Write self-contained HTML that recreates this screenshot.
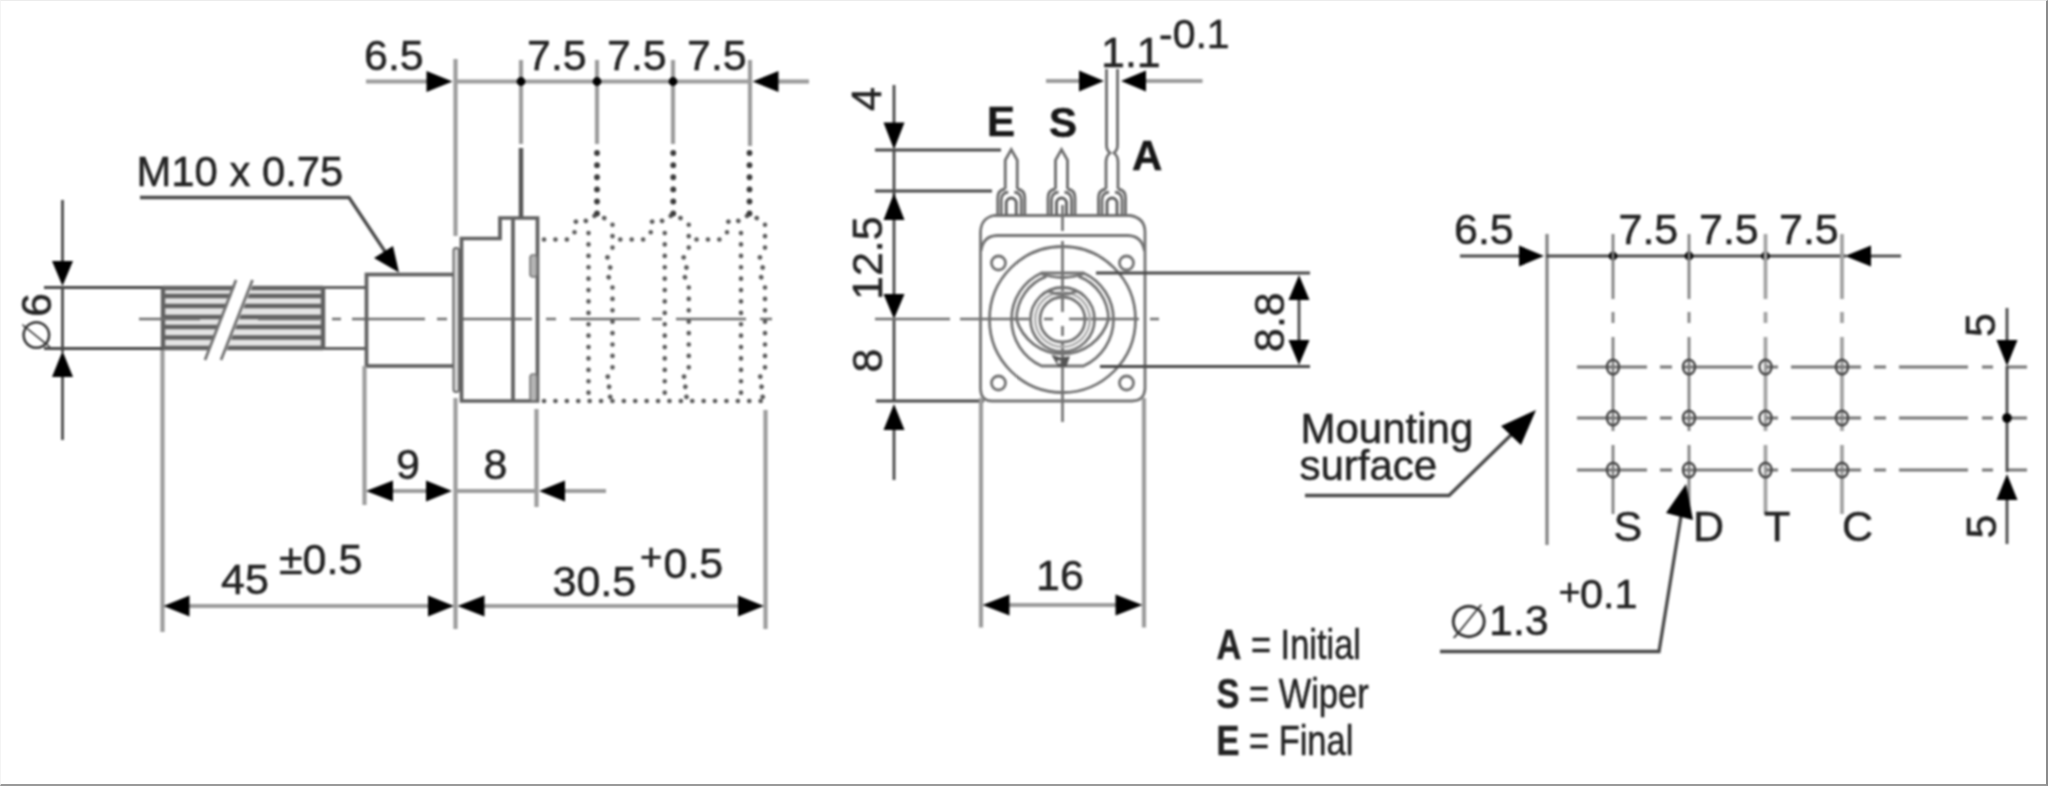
<!DOCTYPE html>
<html lang="en"><head><meta charset="utf-8"><title>Potentiometer dimensions</title>
<style>
html,body{margin:0;padding:0;background:#fff}
#wrap{position:relative;width:2048px;height:786px;overflow:hidden;background:#fff}
#frame{position:absolute;left:0;top:0;width:2045px;height:783px;border-top:1px solid #ececec;border-left:1px solid #f4f4f4;border-right:2px solid #8c8c8c;border-bottom:2px solid #9a9a9a;pointer-events:none}
svg{position:absolute;left:0;top:0;filter:blur(1.25px)}
.tx{font-family:"Liberation Sans",sans-serif;font-size:43px;fill:#222;stroke:#222;stroke-width:0.5px}
.tm{font-family:"Liberation Sans",sans-serif;font-size:42px;fill:#222;stroke:#222;stroke-width:0.5px}
.ph{font-family:"DejaVu Sans",sans-serif;font-size:44px;fill:#333}
.tb{font-family:"Liberation Sans",sans-serif;font-size:42px;font-weight:bold;fill:#161616;stroke:#161616;stroke-width:0.5px}
line,path,circle,rect,ellipse{fill:none}
.t{stroke:#9c9c9c;stroke-width:4.2}
.t2{stroke:#808080;stroke-width:3.2}
.d{stroke:#484848;stroke-width:2.8}
.o{stroke:#606060;stroke-width:3.7;stroke-linejoin:miter}
.o2{stroke:#727272;stroke-width:2.8}
.l2{stroke:#aaa;stroke-width:2.4}
.k{stroke:#626262;stroke-width:4.4}
.c{stroke:#6e6e6e;stroke-width:2.6}
.c2{stroke:#767676;stroke-width:3}
.c2a{stroke:#808080;stroke-width:2.8}
.c2b{stroke:#a2a2a2;stroke-width:3.8}
.h{stroke:#444;stroke-width:2.4;fill:none}
.p{stroke:#6c6c6c;stroke-width:2.8}
.p2{stroke:#5c5c5c;stroke-width:2.8}
.term{stroke:#555;stroke-width:4.5}
.dot{stroke:#585858;stroke-width:4.6;stroke-linecap:round;stroke-dasharray:0.1 11.3}
.dotb{stroke:#3a3a3a;stroke-width:5.8;stroke-linecap:round;stroke-dasharray:0.1 12}
.ar{fill:#000;stroke:none}
</style></head><body>
<div id="wrap">
<svg width="2048" height="786" viewBox="0 0 2048 786">
<line class="d" x1="62.5" y1="200" x2="62.5" y2="262"/>
<line class="d" x1="62.5" y1="286" x2="62.5" y2="352"/>
<line class="d" x1="62.5" y1="376" x2="62.5" y2="440"/>
<polygon class="ar" points="62.5,286 52.0,261 73.0,261"/>
<polygon class="ar" points="62.5,351 52.0,377 73.0,377"/>
<text transform="translate(50,352) rotate(-90)"><tspan class="ph" style="font-size:39px;font-style:oblique">∅</tspan><tspan class="tx" x="35" y="1">6</tspan></text>
<path class="d" d="M44,287.5H163M44,348.5H163"/>
<path class="o" d="M323,287.5H366M323,348.5H366" style="stroke-width:3.2"/>
<rect x="163" y="288" width="160" height="60" style="fill:#e4e4e4"/>
<path class="k" d="M163,288H323M163,296H323M163,306H323M163,317H323M163,327H323M163,337.5H323M163,348H323M163,288V348M323,288V348"/>
<polygon fill="#fff" points="238,279 255,279 222,362 205,362"/>
<path class="o2" d="M236,280L205,360M252.5,280L221,360"/>
<line class="t" x1="162.5" y1="350" x2="162.5" y2="632"/>
<path class="c" d="M139,319H200M258,319H320M332,319H341M352,319H425M437,319H447M461,319H532M546,319H556M570,319H640M652,319H662M676,319H746M760,319H772"/>
<rect class="o" x="366.5" y="274.5" width="88" height="91.5"/>
<path class="d" style="stroke-width:3.3" d="M140,197.5H349L392,262"/>
<polygon class="ar" points="399,272.5 374,258 393,246"/>
<text class="tx" x="136.5" y="186" style="font-size:41.8px">M10 x 0.75</text>
<rect x="453.5" y="248" width="5.5" height="144" rx="2.5" style="fill:#d8d8d8;stroke:#6a6a6a;stroke-width:2"/>
<path class="o" d="M461.5,401V238.5H500V218H537.5V401Z M513,218V401"/>
<rect x="530" y="255" width="7" height="22" rx="3" style="fill:#b4b4b4;stroke:#777;stroke-width:1.6"/>
<rect x="530" y="374" width="7" height="27" rx="3" style="fill:#b4b4b4;stroke:#777;stroke-width:1.6"/>
<line class="term" x1="521" y1="148" x2="521" y2="217"/>
<path class="dot" d="M544.0,239.5H568.0L574.5,234V222.5L581.0,218.5L588.0,222L596.5,214L606.0,219L612.5,223V250L607.0,258L611.0,266L606.5,274L612.5,283V368L607.0,375L611.0,383L607.0,391L612.5,401"/>
<path class="dot" d="M588.5,233V401"/>
<path class="dotb" d="M597.0,153V214.5"/>
<path class="dot" d="M620.25,239.5H644.25L650.75,234V222.5L657.25,218.5L664.25,222L672.75,214L682.25,219L688.75,223V250L683.25,258L687.25,266L682.75,274L688.75,283V368L683.25,375L687.25,383L683.25,391L688.75,401"/>
<path class="dot" d="M664.75,233V401"/>
<path class="dotb" d="M673.25,153V214.5"/>
<path class="dot" d="M696.5,239.5H720.5L727.0,234V222.5L733.5,218.5L740.5,222L749.0,214L758.5,219L765.0,223V250L759.5,258L763.5,266L759.0,274L765.0,283V368L759.5,375L763.5,383L759.5,391L765.0,401"/>
<path class="dot" d="M741.0,233V401"/>
<path class="dotb" d="M749.5,153V214.5"/>
<path class="dot" d="M544,401H766"/>
<line class="t" x1="455.5" y1="59" x2="455.5" y2="236"/>
<line class="t" x1="521" y1="60" x2="521" y2="144"/>
<line class="t" x1="597" y1="60" x2="597" y2="144"/>
<line class="t" x1="673" y1="60" x2="673" y2="144"/>
<line class="t" x1="750" y1="60" x2="750" y2="146"/>
<line class="t" x1="366" y1="81.5" x2="428" y2="81.5"/>
<line class="t" x1="455" y1="81.5" x2="751" y2="81.5"/>
<line class="t" x1="778" y1="81.5" x2="809" y2="81.5"/>
<polygon class="ar" points="452.5,81.5 426.5,71.0 426.5,92.0"/>
<polygon class="ar" points="752.5,81.5 778.5,71.0 778.5,92.0"/>
<circle cx="521" cy="81.5" r="4.4" style="fill:#000"/>
<circle cx="597" cy="81.5" r="4.4" style="fill:#000"/>
<circle cx="673" cy="81.5" r="4.4" style="fill:#000"/>
<text class="tx" x="364" y="70">6.5</text>
<text class="tx" x="527" y="69.5">7.5</text>
<text class="tx" x="607" y="69.5">7.5</text>
<text class="tx" x="687" y="69.5">7.5</text>
<line class="t" x1="364.5" y1="366" x2="364.5" y2="505"/>
<line class="t" x1="455.5" y1="398" x2="455.5" y2="629"/>
<line class="t" x1="536.5" y1="409" x2="536.5" y2="507"/>
<line class="t" x1="765.5" y1="410" x2="765.5" y2="629"/>
<line class="t" x1="392" y1="491" x2="427" y2="491"/>
<line class="t" x1="455" y1="491" x2="538" y2="491"/>
<line class="t" x1="563" y1="491" x2="606" y2="491"/>
<polygon class="ar" points="366,491 393,480.5 393,501.5"/>
<polygon class="ar" points="452,491 426,480.5 426,501.5"/>
<polygon class="ar" points="539,491 565,480.5 565,501.5"/>
<text class="tx" x="396" y="479">9</text>
<text class="tx" x="483.5" y="479">8</text>
<line class="t" x1="188" y1="606" x2="429" y2="606"/>
<line class="t" x1="484" y1="606" x2="739" y2="606"/>
<polygon class="ar" points="163.5,606 189.5,595.5 189.5,616.5"/>
<polygon class="ar" points="454,606 428,595.5 428,616.5"/>
<polygon class="ar" points="457.5,606 484.5,595.5 484.5,616.5"/>
<polygon class="ar" points="764,606 738,595.5 738,616.5"/>
<text><tspan class="tx" x="221" y="594">45 </tspan><tspan class="tx" x="279" y="574">±0.5</tspan></text>
<text><tspan class="tx" x="552.5" y="596">30.5 </tspan><tspan class="tx" x="640" y="570" style="font-size:38px">+</tspan><tspan class="tx" x="663.5" y="577.5">0.5</tspan></text>
<line class="d" x1="894" y1="85" x2="894" y2="124"/>
<line class="d" x1="894" y1="150" x2="894" y2="196"/>
<line class="d" x1="894" y1="218" x2="894" y2="296"/>
<line class="d" x1="894" y1="319" x2="894" y2="402"/>
<line class="d" x1="894" y1="428" x2="894" y2="480"/>
<polygon class="ar" points="894,149.5 883.5,122.5 904.5,122.5"/>
<polygon class="ar" points="894,193 883.5,220 904.5,220"/>
<polygon class="ar" points="894,319 883.5,294 904.5,294"/>
<polygon class="ar" points="894,404 883.5,430 904.5,430"/>
<line class="d" x1="875" y1="150" x2="1001" y2="150"/>
<line class="d" x1="875" y1="191" x2="992" y2="191"/>
<line class="d" x1="876" y1="401" x2="984" y2="401"/>
<text class="tx" transform="translate(881,111) rotate(-90)">4</text>
<text class="tx" transform="translate(882,300) rotate(-90)">12.5</text>
<text class="tx" transform="translate(882,372.5) rotate(-90)">8</text>
<path class="c" d="M875,319H950M960,319H1029M1044,319H1053M1069,319H1139M1150,319H1159"/>
<path class="c" d="M1062.5,205V231M1062.5,241V312M1062.5,326V336M1062.5,341V422"/>
<path class="o2" d="M994,215.5H1130Q1145,218 1145,232V389Q1144,401 1132,401H992Q981,401 980.5,389V232Q981,218 994,215.5Z"/>
<path class="o2" d="M981,251Q983,236 997,235.5H1128Q1142,236 1144.5,251"/>
<circle class="o2" cx="998.5" cy="263" r="7"/>
<circle class="o2" cx="1126.5" cy="263" r="7"/>
<circle class="o2" cx="998.5" cy="383" r="7"/>
<circle class="o2" cx="1126.5" cy="383" r="7"/>
<circle class="o2" cx="1062.5" cy="319.5" r="73"/>
<path class="o2" d="M1041.6,273.0H1083.4A51,51 0 0 1 1083.4,366.0H1041.6A51,51 0 0 1 1041.6,273.0Z"/>
<path class="o2" d="M1046.5,276.4A46,46 0 0 0 1016.5,319.5A48,48 0 0 0 1108.5,319.5A46,46 0 0 0 1078.5,276.4"/>
<path class="o2" d="M1040.5,273.5Q1062.5,281.5 1084.5,273.5"/>
<circle class="o2" cx="1062.5" cy="319.5" r="32"/>
<circle class="l2" cx="1062.5" cy="319.5" r="27.3"/>
<circle class="o2" cx="1062.5" cy="319.5" r="22.5"/>
<path class="o2" d="M1047.5,291.0Q1062.5,297.5 1077.5,291.0"/>
<path d="M1053.5,356.5L1059.0,366.0H1065.5L1068.5,357.5L1060.5,358.5Z" style="fill:#555;stroke:#555;stroke-width:2"/>
<circle cx="1059.0" cy="362.0" r="2" style="fill:#ddd"/>
<path class="p" d="M1005.25,189V160L1011.25,149.5L1017.25,160V189"/>
<path class="p" d="M997.75,215V198Q997.75,190 1005.25,189M1024.75,215V198Q1024.75,190 1017.25,189"/>
<path class="p" d="M1001.25,215V200Q1001.25,193 1008.25,192M1021.25,215V200Q1021.25,193 1014.25,192"/>
<path class="p2" d="M1006.25,215V203A5,5 0 0 1 1016.25,203V215"/>
<path class="p" d="M1055.5,189V160L1061.5,149.5L1067.5,160V189"/>
<path class="p" d="M1048.0,215V198Q1048.0,190 1055.5,189M1075.0,215V198Q1075.0,190 1067.5,189"/>
<path class="p" d="M1051.5,215V200Q1051.5,193 1058.5,192M1071.5,215V200Q1071.5,193 1064.5,192"/>
<path class="p2" d="M1056.5,215V203A5,5 0 0 1 1066.5,203V215"/>
<path class="p" d="M1106,189V162Q1106,156 1110,153Q1106.5,150 1106.5,145V69M1118,189V162Q1118,156 1114,153Q1117.5,150 1117.5,145V69"/>
<path class="p" d="M1098.5,215V198Q1098.5,190 1106,189M1125.5,215V198Q1125.5,190 1118,189"/>
<path class="p" d="M1102,215V200Q1102,193 1109,192M1122,215V200Q1122,193 1115,192"/>
<path class="p2" d="M1107,215V203A5,5 0 0 1 1117,203V215"/>
<text class="tb" x="987" y="136">E</text>
<text class="tb" x="1049" y="136.5">S</text>
<text class="tb" x="1132" y="169.5">A</text>
<line class="t" x1="1046" y1="81" x2="1080" y2="81"/>
<line class="t" x1="1145" y1="81" x2="1202.5" y2="81"/>
<polygon class="ar" points="1104,81 1079,70.5 1079,91.5"/>
<polygon class="ar" points="1121,81 1146,70.5 1146,91.5"/>
<text><tspan class="tx" x="1101" y="67">1.1 </tspan><tspan class="tx" x="1159" y="47.5" style="font-size:41px">-0.1</tspan></text>
<line class="d" x1="1096" y1="273" x2="1310" y2="273"/>
<line class="d" x1="1100" y1="366.5" x2="1310" y2="366.5"/>
<line class="d" x1="1299" y1="298" x2="1299" y2="342"/>
<polygon class="ar" points="1299,275 1288.5,300 1309.5,300"/>
<polygon class="ar" points="1299,365 1288.5,340 1309.5,340"/>
<text class="tx" transform="translate(1284,352) rotate(-90)">8.8</text>
<line class="t" x1="981" y1="398" x2="981" y2="627.5"/>
<line class="t" x1="1144" y1="398" x2="1144" y2="627.5"/>
<line class="t" x1="1008" y1="605" x2="1117" y2="605"/>
<polygon class="ar" points="982.5,605 1009.5,594.5 1009.5,615.5"/>
<polygon class="ar" points="1142.5,605 1115.5,594.5 1115.5,615.5"/>
<text class="tx" x="1036" y="590">16</text>
<text class="tm" transform="translate(1216.5,659) scale(0.82,1)"><tspan font-weight="bold">A</tspan> = Initial</text>
<text class="tm" transform="translate(1216.5,707.5) scale(0.82,1)"><tspan font-weight="bold">S</tspan> = Wiper</text>
<text class="tm" transform="translate(1216.5,755) scale(0.82,1)"><tspan font-weight="bold">E</tspan> = Final</text>
<text><tspan class="tm" x="1300.5" y="442.5">Mounting </tspan><tspan class="tm" x="1299.5" y="480">surface</tspan></text>
<path class="d" style="stroke-width:3.3" d="M1305,495.5H1449L1514,432"/>
<polygon class="ar" points="1536,410 1501,426 1521,445"/>
<line class="t2" x1="1547" y1="234" x2="1547" y2="545"/>
<line class="d" x1="1460" y1="256" x2="1521" y2="256"/>
<line class="d" x1="1546" y1="256" x2="1846" y2="256"/>
<line class="d" x1="1869" y1="256" x2="1901" y2="256"/>
<polygon class="ar" points="1544,256 1519,245.5 1519,266.5"/>
<polygon class="ar" points="1845,256 1871,245.5 1871,266.5"/>
<circle cx="1613" cy="256" r="4.4" style="fill:#000"/>
<circle cx="1689" cy="256" r="4.4" style="fill:#000"/>
<circle cx="1765.5" cy="256" r="4.4" style="fill:#000"/>
<text class="tx" x="1454" y="244">6.5</text>
<text class="tx" x="1618.5" y="244">7.5</text>
<text class="tx" x="1699" y="244">7.5</text>
<text class="tx" x="1779" y="244">7.5</text>
<path class="c2a" d="M1613,234V299M1613,312V323M1613,337V431M1613,445V514"/>
<path class="c2a" d="M1689,234V299M1689,312V323M1689,337V431M1689,445V514"/>
<path class="c2b" d="M1765.5,234V299M1765.5,312V323M1765.5,337V431M1765.5,445V514"/>
<path class="c2b" d="M1842,234V299M1842,312V323M1842,337V431M1842,445V514"/>
<path class="c2" d="M1577,367H1647M1660,367H1672M1683,367H1753M1766,367H1778M1791,367H1861M1874,367H1886M1899,367H1968M1982,367H1993M2006,367H2027"/>
<ellipse class="h" cx="1613" cy="367" rx="6" ry="7.3"/>
<ellipse class="h" cx="1689" cy="367" rx="6" ry="7.3"/>
<ellipse class="h" cx="1765.5" cy="367" rx="6" ry="7.3"/>
<ellipse class="h" cx="1842" cy="367" rx="6" ry="7.3"/>
<path class="c2" d="M1577,418H1647M1660,418H1672M1683,418H1753M1766,418H1778M1791,418H1861M1874,418H1886M1899,418H1968M1982,418H1993M2006,418H2027"/>
<ellipse class="h" cx="1613" cy="418" rx="6" ry="7.3"/>
<ellipse class="h" cx="1689" cy="418" rx="6" ry="7.3"/>
<ellipse class="h" cx="1765.5" cy="418" rx="6" ry="7.3"/>
<ellipse class="h" cx="1842" cy="418" rx="6" ry="7.3"/>
<path class="c2" d="M1577,470H1647M1660,470H1672M1683,470H1753M1766,470H1778M1791,470H1861M1874,470H1886M1899,470H1968M1982,470H1993M2006,470H2027"/>
<ellipse class="h" cx="1613" cy="470" rx="6" ry="7.3"/>
<ellipse class="h" cx="1689" cy="470" rx="6" ry="7.3"/>
<ellipse class="h" cx="1765.5" cy="470" rx="6" ry="7.3"/>
<ellipse class="h" cx="1842" cy="470" rx="6" ry="7.3"/>
<text class="tx" x="1613.5" y="541">S</text>
<text class="tx" x="1693" y="541">D</text>
<text class="tx" x="1764" y="541">T</text>
<text class="tx" x="1842" y="541">C</text>
<line class="d" x1="2007" y1="308" x2="2007" y2="342"/>
<line class="d" x1="2007" y1="366" x2="2007" y2="472"/>
<line class="d" x1="2007" y1="498" x2="2007" y2="544"/>
<polygon class="ar" points="2007,366 1996.5,340 2017.5,340"/>
<polygon class="ar" points="2007,474 1996.5,500 2017.5,500"/>
<circle cx="2007" cy="418" r="4.8" style="fill:#000"/>
<text class="tx" transform="translate(1994.5,337) rotate(-90)">5</text>
<text class="tx" transform="translate(1995.5,538.5) rotate(-90)">5</text>
<path class="d" style="stroke-width:3.3" d="M1440,651.5H1659L1681,516"/>
<polygon class="ar" points="1686,484 1666,513 1693,520"/>
<text><tspan class="ph" x="1448" y="637.5" style="font-size:47px;font-style:oblique">∅</tspan><tspan class="tx" x="1489" y="635">1.3 </tspan><tspan class="tx" x="1558.5" y="604.5" style="font-size:38px">+</tspan><tspan class="tx" x="1580" y="607.5" style="font-size:41.5px">0.1</tspan></text>
</svg>
<div id="frame"></div>
</div>
</body></html>
